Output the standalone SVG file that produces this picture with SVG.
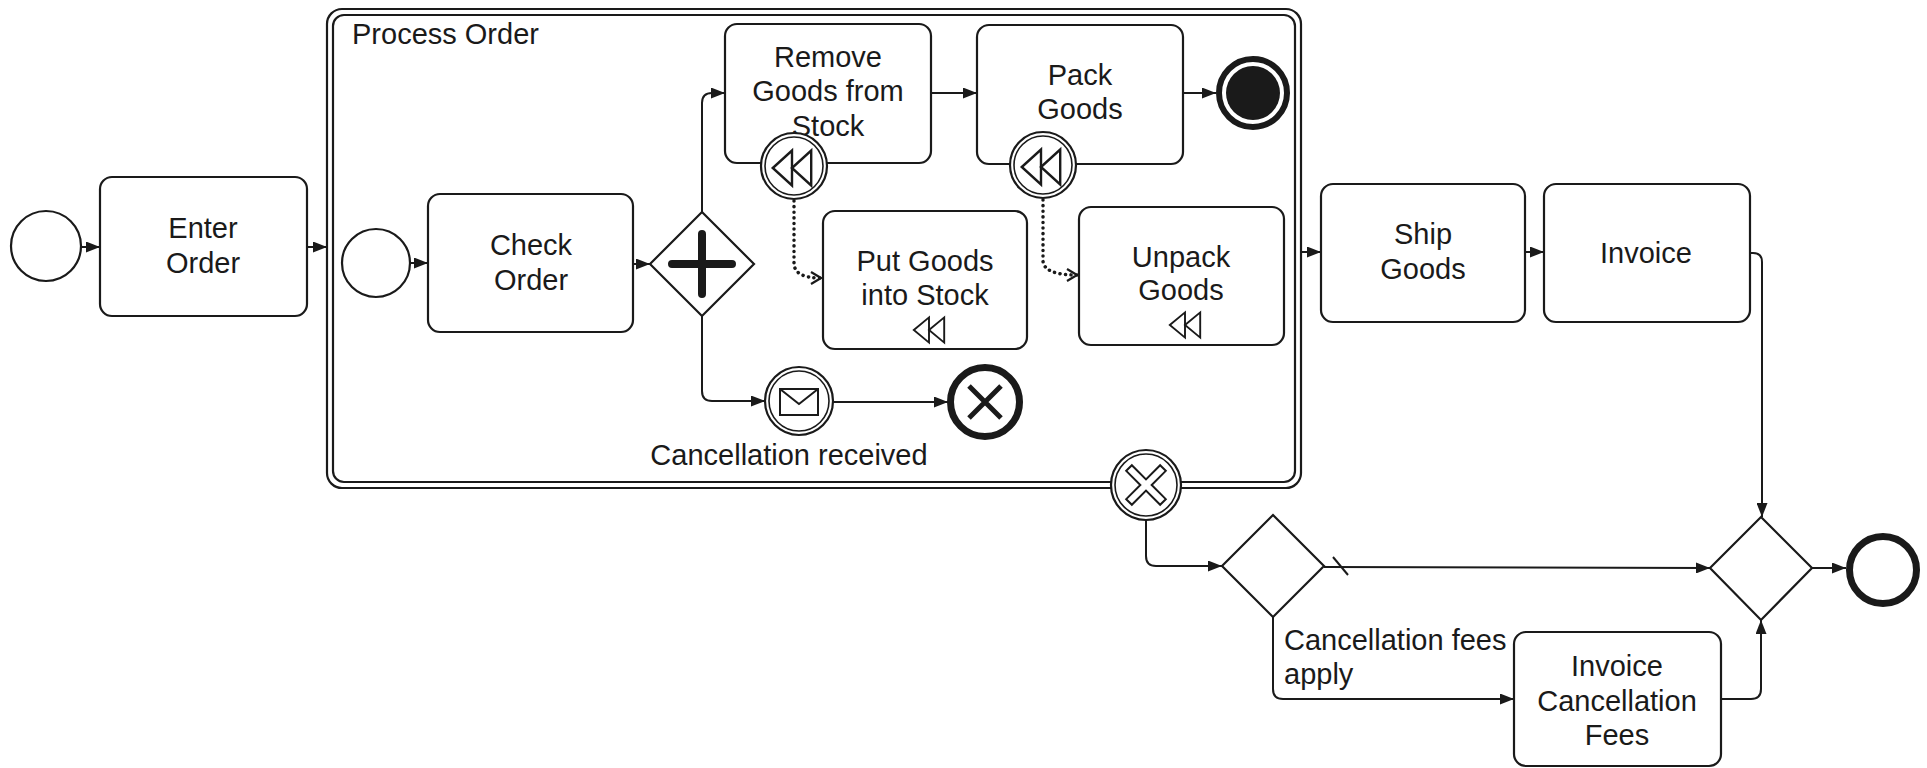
<svg xmlns="http://www.w3.org/2000/svg" width="1927" height="768" viewBox="0 0 1927 768">
<style>
.bg{fill:#fff}
.task{fill:#fff;stroke:#1a1a1a;stroke-width:2.2}
.ev{fill:#fff;stroke:#1a1a1a;stroke-width:2.2}
.evthin{fill:none;stroke:#1a1a1a;stroke-width:1.6}
.gw{fill:#fff;stroke:#1a1a1a;stroke-width:2.2}
.flow{fill:none;stroke:#1a1a1a;stroke-width:2;marker-end:url(#arr)}
.assoc{fill:none;stroke:#1a1a1a;stroke-width:3.5;stroke-dasharray:0.1 5.5;stroke-linecap:round;marker-end:url(#open)}
.icon{fill:#fff;stroke:#1a1a1a;stroke-width:2}
text{font-family:"Liberation Sans",Arial,sans-serif;font-size:29px;fill:#1a1a1a}
.c{text-anchor:middle}
</style>
<defs>
<marker id="arr" viewBox="0 0 14 11" refX="14" refY="5.5" markerWidth="14" markerHeight="11" markerUnits="userSpaceOnUse" orient="auto">
<path d="M0,0 L14,5.5 L0,11 z" fill="#1a1a1a"/>
</marker>
<marker id="open" viewBox="0 0 12 14" refX="11" refY="7" markerWidth="12" markerHeight="14" markerUnits="userSpaceOnUse" orient="auto">
<path d="M1,1 L11,7 L1,13" fill="none" stroke="#1a1a1a" stroke-width="2.2"/>
</marker>
<g id="comp">
<polygon points="-16,0 0,-14 0,14"/>
<polygon points="0,0 16,-14 16,14"/>
</g>
</defs>
<rect class="bg" x="0" y="0" width="1927" height="768"/>

<g id="connectors">
<path class="flow" d="M81,247 L100,247"/>
<path class="flow" d="M307,247 L327,247"/>
<path class="flow" d="M410,263 L428,263"/>
<path class="flow" d="M633,264 L650,264"/>
<path class="flow" d="M702,212 L702,103 Q702,93 712,93 L725,93"/>
<path class="flow" d="M702,316 L702,391 Q702,401 712,401 L765,401"/>
<path class="flow" d="M931,93 L977,93"/>
<path class="flow" d="M1183,93 L1216,93"/>
<path class="flow" d="M833,402 L948,402"/>
<path class="assoc" d="M794,201 L794,264 Q795,278 821,278"/>
<path class="assoc" d="M1043,200 L1043,261 Q1044,275 1077,275"/>
<path class="flow" d="M1301,252 L1321,252"/>
<path class="flow" d="M1525,252 L1544,252"/>
<path class="flow" d="M1750,253 L1753,253 Q1762,253 1762,262 L1762,517"/>
<path class="flow" d="M1146,520 L1146,556 Q1146,566 1156,566 L1222,566"/>
<path class="flow" d="M1324,567 L1710,568"/>
<path d="M1333,557 L1348,575" fill="none" stroke="#1a1a1a" stroke-width="2"/>
<path class="flow" d="M1273,617 L1273,689 Q1273,699 1283,699 L1514,699"/>
<path class="flow" d="M1721,699 L1751,699 Q1761,699 1761,689 L1761,620"/>
<path class="flow" d="M1812,568 L1846,568"/>
</g>

<g id="start1"><circle class="ev" cx="46" cy="246" r="35"/></g>
<g id="enterOrder">
<rect class="task" x="100" y="177" width="207" height="139" rx="12"/>
<text class="c" x="203" y="238">Enter</text>
<text class="c" x="203" y="273">Order</text>
</g>

<g id="processOrder">
<rect x="327" y="9" width="974" height="479" rx="15" fill="none" stroke="#1a1a1a" stroke-width="2.2"/>
<rect x="333" y="15" width="962" height="467" rx="11" fill="none" stroke="#1a1a1a" stroke-width="2.2"/>
<text x="352" y="44">Process Order</text>
</g>

<g id="start2"><circle class="ev" cx="376" cy="263" r="34"/></g>
<g id="checkOrder">
<rect class="task" x="428" y="194" width="205" height="138" rx="12"/>
<text class="c" x="531" y="255">Check</text>
<text class="c" x="531" y="290">Order</text>
</g>
<g id="parallelGw">
<polygon class="gw" points="702,212 754,264 702,316 650,264"/>
<path d="M672,264 L732,264 M702,234 L702,294" stroke="#1a1a1a" stroke-width="8" stroke-linecap="round"/>
</g>
<g id="removeGoods">
<rect class="task" x="725" y="24" width="206" height="139" rx="12"/>
<text class="c" x="828" y="67">Remove</text>
<text class="c" x="828" y="101">Goods from</text>
<text class="c" x="828" y="136">Stock</text>
</g>
<g id="packGoods">
<rect class="task" x="977" y="25" width="206" height="139" rx="12"/>
<text class="c" x="1080" y="85">Pack</text>
<text class="c" x="1080" y="119">Goods</text>
</g>
<g id="terminateEnd">
<circle cx="1253" cy="93" r="34" fill="#fff" stroke="#1a1a1a" stroke-width="6"/>
<circle cx="1253" cy="93" r="27" fill="#1a1a1a"/>
</g>
<g id="compRemove">
<circle class="ev" cx="794" cy="166" r="33"/>
<circle class="evthin" cx="794" cy="166" r="29"/>
<use href="#comp" class="icon" transform="translate(792,168) scale(1.2,1.25)"/>
</g>
<g id="compPack">
<circle class="ev" cx="1043" cy="165" r="33"/>
<circle class="evthin" cx="1043" cy="165" r="29"/>
<use href="#comp" class="icon" transform="translate(1041,167) scale(1.2,1.25)"/>
</g>
<g id="putGoods">
<rect class="task" x="823" y="211" width="204" height="138" rx="12"/>
<text class="c" x="925" y="271">Put Goods</text>
<text class="c" x="925" y="305">into Stock</text>
<use href="#comp" class="icon" transform="translate(929,330) scale(0.95,0.9)"/>
</g>
<g id="unpackGoods">
<rect class="task" x="1079" y="207" width="205" height="138" rx="12"/>
<text class="c" x="1181" y="267">Unpack</text>
<text class="c" x="1181" y="300">Goods</text>
<use href="#comp" class="icon" transform="translate(1185,325) scale(0.95,0.9)"/>
</g>
<g id="msgEvent">
<circle class="ev" cx="799" cy="401" r="34"/>
<circle class="evthin" cx="799" cy="401" r="30"/>
<rect x="780" y="389" width="38" height="26" fill="#fff" stroke="#1a1a1a" stroke-width="2"/>
<path d="M780,389 L799,404 L818,389" fill="none" stroke="#1a1a1a" stroke-width="2"/>
<text class="c" x="789" y="465">Cancellation received</text>
</g>
<g id="cancelEnd">
<circle cx="985" cy="402" r="34.5" fill="#fff" stroke="#1a1a1a" stroke-width="7"/>
<path d="M969,386 L1001,418 M1001,386 L969,418" stroke="#1a1a1a" stroke-width="5"/>
</g>
<g id="cancelBoundary">
<circle class="ev" cx="1146" cy="485" r="35"/>
<circle class="evthin" cx="1146" cy="485" r="31"/>
<polygon transform="translate(1146,485) rotate(45)" points="-4,-24 4,-24 4,-4 24,-4 24,4 4,4 4,24 -4,24 -4,4 -24,4 -24,-4 -4,-4" fill="#fff" stroke="#1a1a1a" stroke-width="2"/>
</g>
<g id="shipGoods">
<rect class="task" x="1321" y="184" width="204" height="138" rx="12"/>
<text class="c" x="1423" y="244">Ship</text>
<text class="c" x="1423" y="279">Goods</text>
</g>
<g id="invoice">
<rect class="task" x="1544" y="184" width="206" height="138" rx="12"/>
<text class="c" x="1646" y="263">Invoice</text>
</g>
<g id="splitGw">
<polygon class="gw" points="1273,515 1324,566 1273,617 1222,566"/>
</g>
<text x="1284" y="650">Cancellation fees</text>
<text x="1284" y="684">apply</text>
<g id="invoiceCancel">
<rect class="task" x="1514" y="632" width="207" height="134" rx="12"/>
<text class="c" x="1617" y="676">Invoice</text>
<text class="c" x="1617" y="711">Cancellation</text>
<text class="c" x="1617" y="745">Fees</text>
</g>
<g id="mergeGw">
<polygon class="gw" points="1761,517 1812,568 1761,620 1710,568"/>
</g>
<g id="end"><circle cx="1883" cy="570" r="33.5" fill="#fff" stroke="#1a1a1a" stroke-width="7"/></g>
</svg>
